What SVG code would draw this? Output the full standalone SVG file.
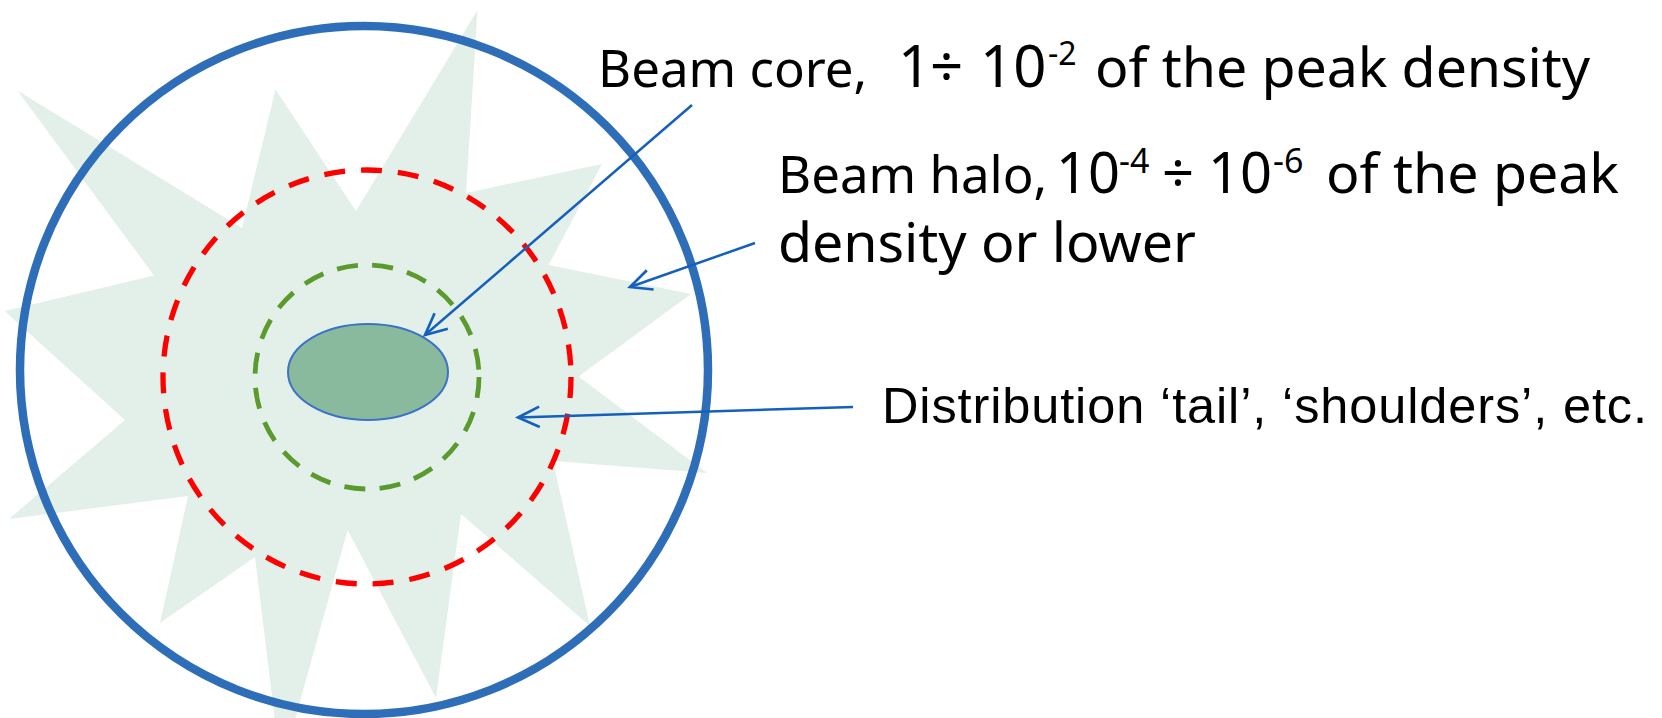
<svg xmlns="http://www.w3.org/2000/svg" width="1662" height="718" viewBox="0 0 1662 718">
<style>
.lbl{font-family:"Noto Sans","Open Sans",sans-serif;fill:#000}
.lbl2{font-family:"Liberation Sans",Arial,sans-serif;fill:#000}
.conn{stroke:#1560bd;stroke-width:2.5;fill:none}
</style>
<defs>
<marker id="arr" markerUnits="userSpaceOnUse" markerWidth="30" markerHeight="30" viewBox="-24 -12 28 24" refX="0" refY="0" orient="auto">
<path d="M-20,-9.5 L0,0 L-20,9.5" fill="none" stroke="#1560bd" stroke-width="2.5"/>
</marker>
</defs>
<rect width="1662" height="718" fill="#ffffff"/>
<g id="halo-star">
<polygon fill="#e2f0e9" points="477.5,10 466,193 602,164 548.6,265 691,294 578.5,376.5 707,473 553,461 590,626 461,514 436,698 347.6,530 281,770 255,557 160,623 188,496 9,519 125,420 4.6,311 154,275.5 17.4,90.4 242,228 275.5,89.5 356,211"/>
</g>
<g id="aperture">
<circle cx="364" cy="370" r="344" fill="none" stroke="#2e6eb8" stroke-width="8.5"/>
</g>
<g id="halo-boundary">
<ellipse cx="367" cy="377" rx="204" ry="207" fill="none" stroke="#ff0000" stroke-width="5.3" stroke-dasharray="21 16"/>
</g>
<g id="tail-boundary">
<circle cx="367" cy="377" r="112" fill="none" stroke="#5b9a2e" stroke-width="4.8" stroke-dasharray="21 14.5"/>
</g>
<g id="core">
<ellipse cx="368" cy="372" rx="80" ry="48" fill="#8aba9e" stroke="#3b73c6" stroke-width="2"/>
</g>
<g id="connectors">
<line class="conn" x1="692" y1="105" x2="425" y2="335" marker-end="url(#arr)"/>
<line class="conn" x1="755" y1="243" x2="630" y2="287" marker-end="url(#arr)"/>
<line class="conn" x1="853" y1="407" x2="518" y2="417.5" marker-end="url(#arr)"/>
</g>
<g id="label-core">
<text class="lbl" y="87"><tspan x="898" font-size="58">1</tspan><tspan x="930" font-size="58">÷</tspan><tspan x="980" font-size="58">10</tspan><tspan x="1048" y="65" font-size="32">-2</tspan><tspan x="1095" y="87" font-size="55.5" textLength="495">of the peak density</tspan></text>
<text class="lbl" x="598" y="87" font-size="51">Beam core,</text>
</g>
<g id="label-halo">
<text class="lbl" y="193"><tspan x="1056" font-size="56">10</tspan><tspan x="1119" y="173" font-size="34">-4</tspan><tspan x="1162" y="193" font-size="56">÷</tspan><tspan x="1208" font-size="56">10</tspan><tspan x="1273" y="173" font-size="34">-6</tspan><tspan x="1326" y="193" font-size="55.5" textLength="293">of the peak</tspan></text>
<text class="lbl" x="778" y="193" font-size="51">Beam halo,</text>
<text class="lbl" x="778" y="262" font-size="55.5" textLength="418">density or lower</text>
</g>
<g id="label-tail">
<text class="lbl2" x="882" y="423" font-size="50.5" textLength="765">Distribution ‘tail’, ‘shoulders’, etc.</text>
</g>
</svg>
